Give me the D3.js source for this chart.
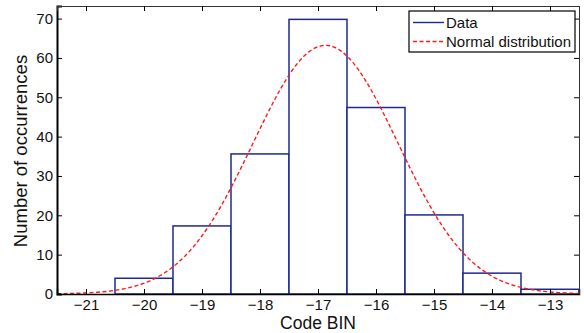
<!DOCTYPE html>
<html>
<head>
<meta charset="utf-8">
<script src="https://cdn.jsdelivr.net/npm/d3@7"></script>
<style>
  html, body { margin: 0; padding: 0; background: #fff; }
  svg { display: block; font-family: "Liberation Sans", Arial, sans-serif; }
</style>
</head>
<body>
<div id="chart"></div>
<script>
// histogram bins (bin centres) and counts
const binCenters = [-21, -20, -19, -18, -17, -16, -15, -14, -13];
const binCounts = [0, 4, 17.3, 35.6, 69.8, 47.4, 20.1, 5.3, 1.2];
const xTicks = [-21, -20, -19, -18, -17, -16, -15, -14, -13];
const yTicks = [0, 10, 20, 30, 40, 50, 60, 70];

// fitted normal distribution
const fitMean = -16.87;
const fitSigma = 1.25;
const fitTotal = 198;
const binWidth = 1;

const W = 584, H = 333;
const m = { left: 57, right: 5, top: 6, bottom: 39 };

const svg = d3.select('#chart').append('svg')
    .attr('width', W).attr('height', H);

const x = d3.scaleLinear().domain([-21.5, -12.5]).range([m.left, W - m.right]);
const y = d3.scaleLinear().domain([0, 73.2]).range([H - m.bottom, m.top]);

const blue = '#1c2a8e';

// bars
svg.append('g').selectAll('rect')
    .data(binCenters)
    .join('rect')
    .attr('x', (d) => x(d - binWidth / 2))
    .attr('width', (d) => x(d + binWidth / 2) - x(d - binWidth / 2))
    .attr('y', (d, i) => y(binCounts[i]))
    .attr('height', (d, i) => y(0) - y(binCounts[i]))
    .attr('fill', '#fff')
    .attr('stroke', blue)
    .attr('stroke-width', 1.5);

// normal curve
const pdf = (v) => fitTotal * binWidth / (fitSigma * Math.sqrt(2 * Math.PI)) *
    Math.exp(-0.5 * Math.pow((v - fitMean) / fitSigma, 2));
const xs = d3.range(-21.5, -12.5 + 1e-9, 0.05);
svg.append('path')
    .datum(xs)
    .attr('fill', 'none')
    .attr('stroke', '#ff1a1a')
    .attr('stroke-width', 1.4)
    .attr('stroke-dasharray', '4,2.5')
    .attr('d', d3.line().x((d) => x(d)).y((d) => y(pdf(d))));

// axes, MATLAB style: ticks inward on all four sides
const xAxis = d3.axisBottom(x).tickValues(xTicks).tickSize(-5).tickPadding(5).tickFormat(d3.format('d'));
const yAxis = d3.axisLeft(y).tickValues(yTicks).tickSize(-5).tickPadding(4);

const gx = svg.append('g').attr('transform', `translate(0,${H - m.bottom})`).call(xAxis);
const gy = svg.append('g').attr('transform', `translate(${m.left},0)`).call(yAxis);
const gxTop = svg.append('g').attr('transform', `translate(0,${m.top})`)
    .call(d3.axisTop(x).tickValues(xTicks).tickSize(-5).tickFormat(''));
const gyRight = svg.append('g').attr('transform', `translate(${W - m.right},0)`)
    .call(d3.axisRight(y).tickValues(yTicks).tickSize(-5).tickFormat(''));

[gx, gy, gxTop, gyRight].forEach((g) => {
    g.select('.domain').attr('stroke', '#000');
    g.selectAll('.tick line').attr('stroke', '#000');
    g.selectAll('.tick text').attr('fill', '#111').attr('font-size', '15px')
        .attr('font-family', '"Liberation Sans", Arial, sans-serif');
});
gy.select('.domain').attr('stroke-width', 2);
gx.select('.domain').attr('stroke-width', 1.5);
gxTop.select('.domain').attr('stroke', '#333');
gyRight.select('.domain').attr('stroke', '#333');

// axis labels
svg.append('text')
    .attr('x', 318).attr('y', 329)
    .attr('text-anchor', 'middle')
    .attr('font-size', '17.5px')
    .attr('fill', '#111')
    .text('Code BIN');

svg.append('text')
    .attr('transform', 'translate(27,151) rotate(-90)')
    .attr('text-anchor', 'middle')
    .attr('font-size', '18.5px')
    .attr('fill', '#111')
    .text('Number of occurrences');

// legend
const legend = svg.append('g').attr('transform', 'translate(409,11)');
legend.append('rect')
    .attr('width', 166).attr('height', 41)
    .attr('fill', '#fff').attr('stroke', '#000').attr('stroke-width', 1.2);
[
    { label: 'Data', color: blue, dash: null },
    { label: 'Normal distribution', color: '#ff1a1a', dash: '4,2.5' }
].forEach((item, i) => {
    const cy = 11.5 + i * 19;
    legend.append('line')
        .attr('x1', 4).attr('x2', 35).attr('y1', cy).attr('y2', cy)
        .attr('stroke', item.color).attr('stroke-width', 1.4)
        .attr('stroke-dasharray', item.dash);
    legend.append('text')
        .attr('x', 37).attr('y', cy + 5)
        .attr('font-size', '15px').attr('fill', '#111')
        .text(item.label);
});
</script>
</body>
</html>
